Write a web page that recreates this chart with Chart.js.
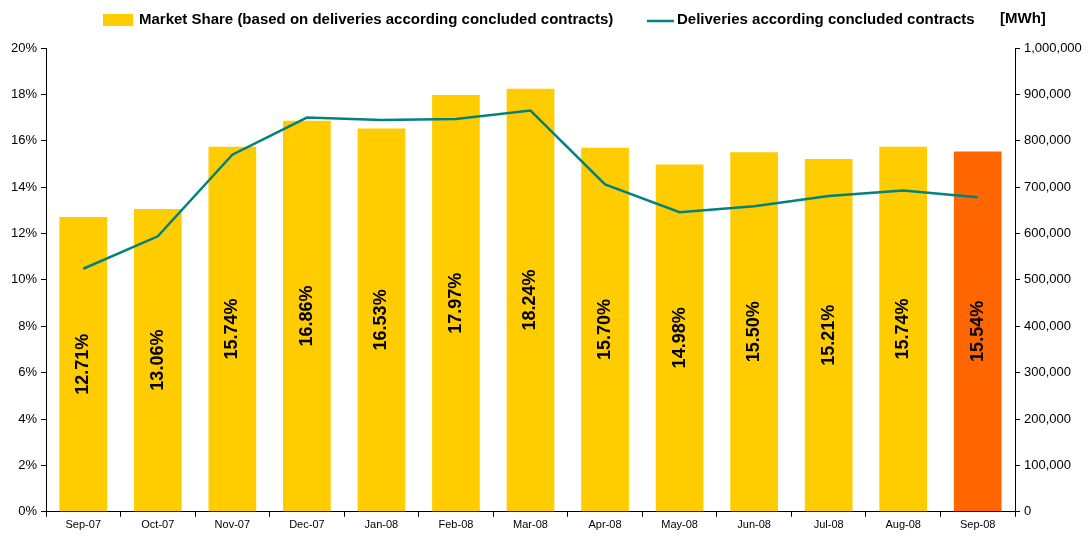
<!DOCTYPE html>
<html>
<head>
<meta charset="utf-8">
<script src="https://cdn.jsdelivr.net/npm/chart.js@4"></script>
<style>
  html, body { margin: 0; padding: 0; background: #fff; }
  #wrap { width: 1092px; height: 536px; }
</style>
</head>
<body>
<div id="wrap"><canvas id="myChart"></canvas></div>
<script>
const months = ['Sep-07', 'Oct-07', 'Nov-07', 'Dec-07', 'Jan-08', 'Feb-08', 'Mar-08',
    'Apr-08', 'May-08', 'Jun-08', 'Jul-08', 'Aug-08', 'Sep-08'];
// market share in %
const marketShare = [12.71, 13.06, 15.74, 16.86, 16.53, 17.97, 18.24, 15.70, 14.98, 15.50, 15.21, 15.74, 15.54];
// deliveries in MWh
const deliveries = [524000, 594000, 770000, 850000, 845000, 847000, 865000, 706000, 646000, 659000, 681000, 693000, 678000];

const yellow = '#FFCC00';
const orange = '#FF6600';
const teal = '#00827F';
const barColors = months.map((m, i) => i === months.length - 1 ? orange : yellow);

const FONT = '"Liberation Sans", Arial, sans-serif';
const NARROW = '"Liberation Sans Narrow", "Arial Narrow", "Liberation Sans", sans-serif';

// rotated value labels inside bars + legend + unit
const extras = {
    id: 'extras',
    afterDatasetsDraw(chart) {
        const ctx = chart.ctx;
        const meta = chart.getDatasetMeta(0);
        ctx.save();
        ctx.font = 'bold 18px ' + FONT;
        ctx.fillStyle = '#000';
        ctx.textAlign = 'center';
        ctx.textBaseline = 'middle';
        meta.data.forEach((bar, i) => {
            const cy = (bar.y + bar.base) / 2;
            ctx.save();
            ctx.translate(bar.x, cy);
            ctx.rotate(-Math.PI / 2);
            ctx.fillText(marketShare[i].toFixed(2) + '%', 0, 0);
            ctx.restore();
        });
        ctx.restore();
    },
    afterDraw(chart) {
        const ctx = chart.ctx;
        ctx.save();
        ctx.font = 'bold 15px ' + NARROW;
        ctx.fillStyle = '#000';
        ctx.textBaseline = 'middle';
        const y = 20;
        ctx.fillStyle = yellow;
        ctx.fillRect(103, y - 6, 30, 12);
        ctx.fillStyle = '#000';
        ctx.fillText(chart.data.datasets[0].label, 139, y);
        ctx.strokeStyle = teal;
        ctx.lineWidth = 2.5;
        ctx.beginPath();
        ctx.moveTo(647, y + 1);
        ctx.lineTo(674, y + 1);
        ctx.stroke();
        ctx.fillText(chart.data.datasets[1].label, 677, y);
        ctx.fillText('[MWh]', 1000, y - 1);
        ctx.restore();
    }
};

const ctx = document.getElementById('myChart').getContext('2d');
new Chart(ctx, {
    type: 'bar',
    data: {
        labels: months,
        datasets: [{
            label: 'Market Share (based on deliveries according concluded contracts)',
            data: marketShare,
            backgroundColor: barColors,
            yAxisID: 'y',
            categoryPercentage: 1,
            barPercentage: 0.64,
            order: 2
        }, {
            type: 'line',
            label: 'Deliveries according concluded contracts',
            data: deliveries,
            borderColor: teal,
            backgroundColor: teal,
            borderWidth: 2.5,
            pointRadius: 0,
            tension: 0,
            yAxisID: 'y1',
            order: 1
        }]
    },
    options: {
        responsive: true,
        maintainAspectRatio: false,
        animation: false,
        layout: { padding: { top: 48, left: 0, right: 0, bottom: 2 } },
        plugins: {
            legend: { display: false },
            tooltip: { enabled: false }
        },
        scales: {
            x: {
                grid: { display: true, drawOnChartArea: false, drawTicks: true, tickLength: 5, color: '#000', offset: true },
                border: { color: '#000', width: 1 },
                ticks: { color: '#000', font: { family: FONT, size: 11 }, padding: 2, maxRotation: 0 }
            },
            y: {
                position: 'left',
                min: 0,
                max: 20,
                ticks: {
                    stepSize: 2,
                    color: '#000',
                    font: { family: FONT, size: 13 },
                    padding: 4,
                    callback: v => v + '%'
                },
                grid: { display: true, drawOnChartArea: false, drawTicks: true, tickLength: 5, color: '#000' },
                border: { color: '#000', width: 1 },
                afterFit: s => { s.width = 46; }
            },
            y1: {
                position: 'right',
                min: 0,
                max: 1000000,
                ticks: {
                    stepSize: 100000,
                    color: '#000',
                    font: { family: FONT, size: 13 },
                    padding: 4,
                    callback: v => v.toLocaleString('en-US')
                },
                grid: { display: true, drawOnChartArea: false, drawTicks: true, tickLength: 5, color: '#000' },
                border: { color: '#000', width: 1 },
                afterFit: s => { s.width = 77; }
            }
        }
    },
    plugins: [extras]
});
</script>
</body>
</html>
